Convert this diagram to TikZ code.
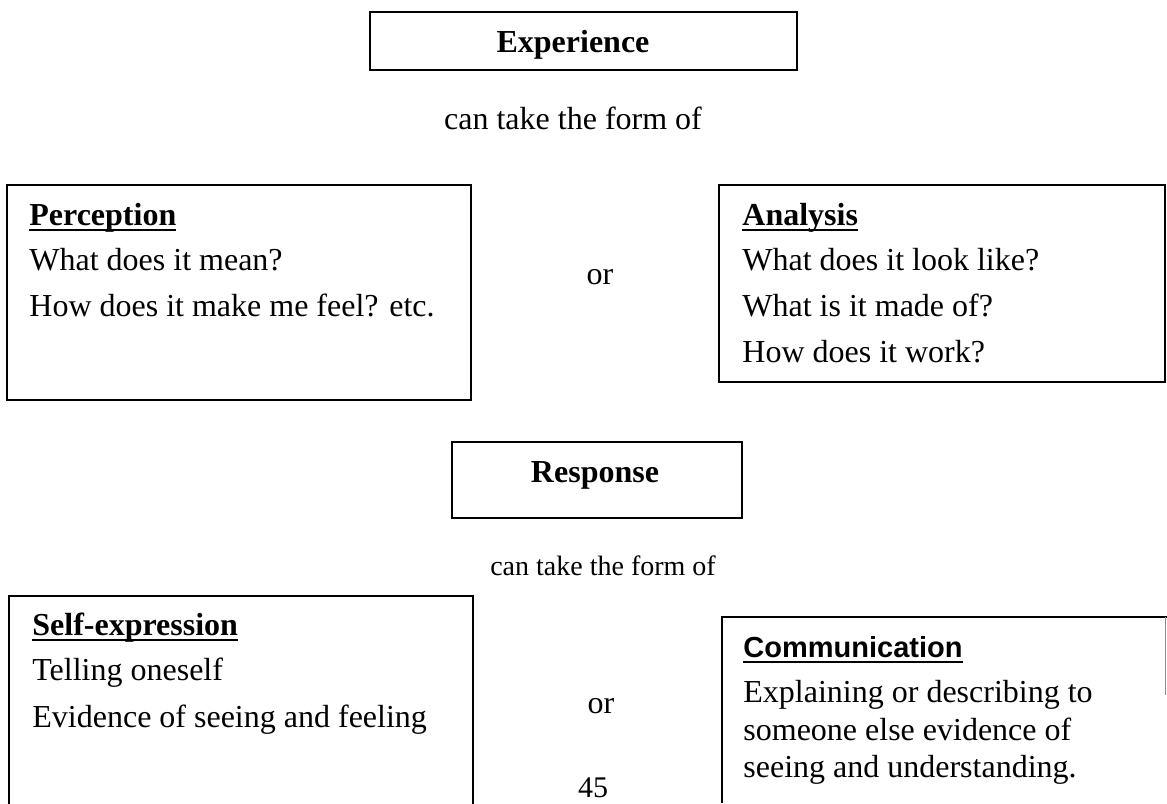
\documentclass[tikz,border=0pt]{standalone}
\usepackage{fontspec}
\setmainfont{Liberation Serif}
\newfontfamily\arialfont{Liberation Sans}
\newsavebox\headbox
\newcommand{\headtitle}[1]{\sbox\headbox{\textbf{#1}}\usebox\headbox\llap{\rule[-3.2pt]{\wd\headbox}{1.3pt}}}

\begin{document}
\begin{tikzpicture}[x=0.5pt, y=-0.5pt,
  every node/.style={inner sep=0pt, font=\fontsize{16}{19}\selectfont},
  txt/.style={anchor=base west},
  mid/.style={anchor=base}]

\useasboundingbox (0,0) rectangle (1167,803);
\clip (0,0) rectangle (1167,803);

\begin{scope}[line width=1.2pt]
\draw (370,12) rectangle (797,70);
\draw (7,185) rectangle (471,400);
\draw (719,185) rectangle (1165,382);
\draw (452,442) rectangle (742,518);
\draw (9,596) rectangle (473,830);
\draw (1167,617) -- (722,617) -- (722,803);
\draw [line width=0.5pt, black!45] (1165,617) -- (1165,695);
\end{scope}

\node [mid] (exp) at (573,52) {\textbf{Experience}};
\node [mid] (formA) at (573,129) {can take the form of};

\node [txt] (perc) at (29,225) {\headtitle{Perception}};
\node [txt] (percA) at (29,270) {What does it mean?};
\node [txt] (percB) at (29,316) {How does it make me feel? etc.};

\node [mid] (orA) at (600,284) {or};

\node [txt] (anal) at (742,225) {\headtitle{Analysis}};
\node [txt] (analA) at (742,270) {What does it look like?};
\node [txt] (analB) at (742,316) {What is it made of?};
\node [txt] (analC) at (742,362) {How does it work?};

\node [mid] (resp) at (595,482) {\textbf{Response}};
\node [mid, font=\fontsize{14}{17}\selectfont] (formB) at (603,575) {can take the form of};

\node [txt] (self) at (32,635) {\headtitle{Self-expression}};
\node [txt] (selfA) at (32,680) {Telling oneself};
\node [txt] (selfB) at (32,727) {Evidence of seeing and feeling};

\node [mid] (orB) at (601,713) {or};
\node [mid, font=\fontsize{15}{18}\selectfont] (page) at (593,797) {45};

\node [txt, font=\arialfont\fontsize{14.5}{17}\selectfont] (comm) at (743,657) {\headtitle{Communication}};
\node [txt] (commA) at (743,702) {Explaining or describing to};
\node [txt] (commB) at (743,740) {someone else evidence of};
\node [txt] (commC) at (743,777) {seeing and understanding.};

\end{tikzpicture}
\end{document}
